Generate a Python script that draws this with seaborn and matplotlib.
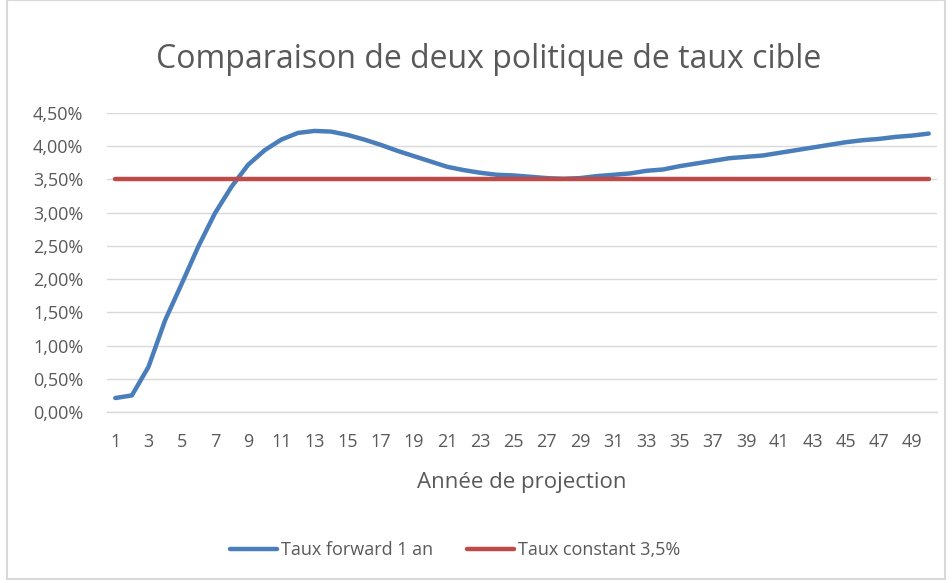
import numpy as np
import pandas as pd
import seaborn as sns
import matplotlib
matplotlib.use("Agg")
import matplotlib.pyplot as plt
from matplotlib.ticker import FuncFormatter
from matplotlib.patches import Rectangle
from matplotlib.lines import Line2D

years = list(range(1, 51))
taux_forward = [0.21, 0.25, 0.68, 1.38, 1.93, 2.49, 2.99, 3.39, 3.72, 3.94,
                4.10, 4.20, 4.23, 4.22, 4.17, 4.10, 4.02, 3.93, 3.85, 3.77,
                3.69, 3.64, 3.60, 3.57, 3.56, 3.54, 3.52, 3.51, 3.52, 3.55,
                3.57, 3.59, 3.63, 3.65, 3.70, 3.74, 3.78, 3.82, 3.84, 3.86,
                3.90, 3.94, 3.98, 4.02, 4.06, 4.09, 4.11, 4.14, 4.16, 4.19]
taux_constant = [3.5] * 50
series_names = ["Taux forward 1 an", "Taux constant 3,5%"]
colors = ["#4A7EBB", "#BE4B48"]

df = pd.concat([
    pd.DataFrame({"Année": years, "Taux": np.array(taux_forward) / 100, "Série": series_names[0]}),
    pd.DataFrame({"Année": years, "Taux": np.array(taux_constant) / 100, "Série": series_names[1]}),
])

sns.set_theme(style="white")
plt.rcParams['font.family'] = ['Open Sans', 'DejaVu Sans']

W, H = 953, 583
fig = plt.figure(figsize=(W / 100, H / 100), dpi=100)
ax = fig.add_axes([107 / W, 1 - 412 / H, (937 - 107) / W, (412 - 113) / H])

sns.lineplot(data=df, x="Année", y="Taux", hue="Série", palette=colors,
             linewidth=3.2, ax=ax, legend=False, solid_capstyle="round")

ax.set_xlim(0.5, 50.5)
ax.set_ylim(0, 0.045)
ax.set_yticks(np.arange(0, 0.0451, 0.005))
ax.yaxis.set_major_formatter(FuncFormatter(lambda v, p: f"{v*100:.2f}%".replace(".", ",")))
ax.set_xticks(list(range(1, 51, 2)))
ax.set_xticklabels([str(i) for i in range(1, 51, 2)])
ax.grid(axis="y", color="#D9D9D9", linewidth=1)
ax.set_axisbelow(True)
for s in ["top", "right", "left"]:
    ax.spines[s].set_visible(False)
ax.spines["bottom"].set_color("#D9D9D9")
ax.spines["bottom"].set_linewidth(1)
ax.tick_params(axis="both", length=0, labelsize=13, colors="#595959")
ax.tick_params(axis="y", pad=17)
ax.tick_params(axis="x", pad=15)
ax.set_xlabel("Année de projection", fontsize=16, color="#595959", labelpad=15)
ax.set_ylabel("")

fig.text(489 / W, 1 - 60 / H, "Comparaison de deux politique de taux cible",
         ha="center", va="center", fontsize=23, color="#595959")

handles = [Line2D([0], [0], color=c, lw=3.2) for c in colors]
fig.legend(handles, series_names, loc="center", bbox_to_anchor=(455 / W, 1 - 550 / H),
           ncol=2, frameon=False, fontsize=13, labelcolor="#595959",
           handlelength=2.6, handletextpad=0.2, columnspacing=1.9)

fig.patches.append(Rectangle((7 / W, 4 / H), (945 - 7) / W, (H - 4) / H,
                             transform=fig.transFigure, fill=False,
                             edgecolor="#D9D9D9", linewidth=1.5))

fig.savefig("out.png", dpi=100)
